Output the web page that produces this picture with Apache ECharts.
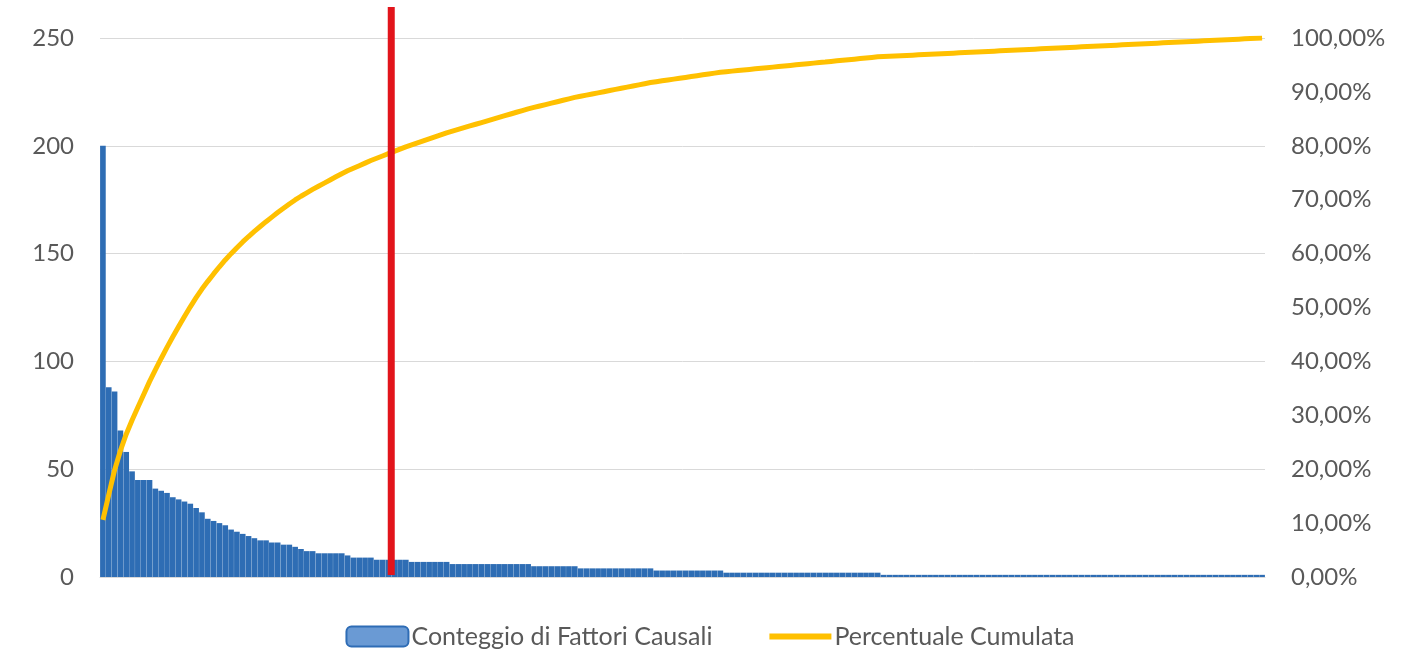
<!DOCTYPE html>
<html>
<head>
<meta charset="utf-8">
<script src="https://cdn.jsdelivr.net/npm/echarts@6/dist/echarts.min.js"></script>
<style>
html,body{margin:0;padding:0;background:#fff;}
#chart{width:1420px;height:657px;}
</style>
</head>
<body>
<div id="chart"></div>
<script>
// Counts per causal factor (sorted descending)
const counts = [
  200, 88, 86, 68, 58, 49, 45, 45, 45, 41,
  40, 39, 37, 36, 35, 34, 32, 30, 27, 26,
  25, 24, 22, 21, 20, 19, 18, 17, 17, 16,
  16, 15, 15, 14, 13, 12, 12, 11, 11, 11,
  11, 11, 10, 9, 9, 9, 9, 8, 8, 8,
  8, 8, 8, 7, 7, 7, 7, 7, 7, 7,
  6, 6, 6, 6, 6, 6, 6, 6, 6, 6,
  6, 6, 6, 6, 5, 5, 5, 5, 5, 5,
  5, 5, 4, 4, 4, 4, 4, 4, 4, 4,
  4, 4, 4, 4, 4, 3, 3, 3, 3, 3,
  3, 3, 3, 3, 3, 3, 3, 2, 2, 2,
  2, 2, 2, 2, 2, 2, 2, 2, 2, 2,
  2, 2, 2, 2, 2, 2, 2, 2, 2, 2,
  2, 2, 2, 2, 1, 1, 1, 1, 1, 1,
  1, 1, 1, 1, 1, 1, 1, 1, 1, 1,
  1, 1, 1, 1, 1, 1, 1, 1, 1, 1,
  1, 1, 1, 1, 1, 1, 1, 1, 1, 1,
  1, 1, 1, 1, 1, 1, 1, 1, 1, 1,
  1, 1, 1, 1, 1, 1, 1, 1, 1, 1,
  1, 1, 1, 1, 1, 1, 1, 1, 1, 1
];
const categories = counts.map((_, i) => 'Fattore ' + (i + 1));
const leftTicks = { min: 0, max: 250, interval: 50 };
const rightTicks = { min: 0, max: 100, interval: 10 };
const seriesNames = ['Conteggio di Fattori Causali', 'Percentuale Cumulata'];
const cutoffIndex = 50; // red vertical cut-off line position (category boundary)

// cumulative percentage derived from the counts
const total = counts.reduce((a, b) => a + b, 0);
let run = 0;
const cumulative = counts.map(v => { run += v; return +(run / total * 100).toFixed(3); });

const FONT = 'Lato';
const TXT = '#595959';
const chart = echarts.init(document.getElementById('chart'), null, { renderer: 'canvas' });
chart.setOption({
  animation: false,
  backgroundColor: '#ffffff',
  textStyle: { fontFamily: FONT, color: TXT },
  grid: [
    { left: 100, right: 155, top: 38, bottom: 80 },
    { left: 100, right: 155, top: 7, bottom: 82 }
  ],
  legend: {
    data: [
      { name: seriesNames[0], itemStyle: { color: '#6a9ad4', borderColor: '#2e6cb5', borderWidth: 2 } },
      { name: seriesNames[1], itemStyle: { opacity: 0 }, lineStyle: { color: '#ffc000', width: 6 } }
    ],
    bottom: 3,
    left: 'center',
    itemWidth: 62,
    itemHeight: 20,
    itemGap: 54,
    textStyle: { fontFamily: FONT, fontSize: 25, color: TXT, padding: [0, 0, 0, -2] }
  },
  xAxis: [
    {
      type: 'category', gridIndex: 0, data: categories,
      axisLine: { show: true, lineStyle: { color: '#d9d9d9', width: 1 } },
      axisTick: { show: false }, axisLabel: { show: false }, splitLine: { show: false }
    },
    { type: 'value', gridIndex: 1, min: 0, max: counts.length, show: false }
  ],
  yAxis: [
    {
      type: 'value', gridIndex: 0, min: leftTicks.min, max: leftTicks.max, interval: leftTicks.interval,
      axisLine: { show: false }, axisTick: { show: false },
      axisLabel: { fontFamily: FONT, fontSize: 24, color: TXT, margin: 26 },
      splitLine: { lineStyle: { color: '#d9d9d9', width: 1 } }
    },
    {
      type: 'value', gridIndex: 0, position: 'right', min: rightTicks.min, max: rightTicks.max, interval: rightTicks.interval,
      axisLine: { show: false }, axisTick: { show: false }, splitLine: { show: false },
      axisLabel: {
        fontFamily: FONT, fontSize: 24, color: TXT, margin: 26,
        formatter: v => v.toFixed(2).replace('.', ',') + '%'
      }
    },
    { type: 'value', gridIndex: 1, min: 0, max: 1, show: false }
  ],
  series: [
    {
      name: seriesNames[0], type: 'bar', xAxisIndex: 0, yAxisIndex: 0,
      data: counts, barCategoryGap: '3%',
      itemStyle: { color: '#2e6db4' }
    },
    {
      name: seriesNames[1], type: 'line', xAxisIndex: 0, yAxisIndex: 1,
      data: cumulative, symbol: 'none', smooth: false,
      lineStyle: { color: '#ffc000', width: 5 }, itemStyle: { color: '#ffc000' }
    },
    {
      name: 'cutoff', type: 'line', xAxisIndex: 1, yAxisIndex: 2,
      data: [[cutoffIndex, 0], [cutoffIndex, 1]], symbol: 'none', silent: true,
      lineStyle: { color: '#e2141b', width: 7, cap: 'butt' }, z: 5
    }
  ]
});
</script>
</body>
</html>
